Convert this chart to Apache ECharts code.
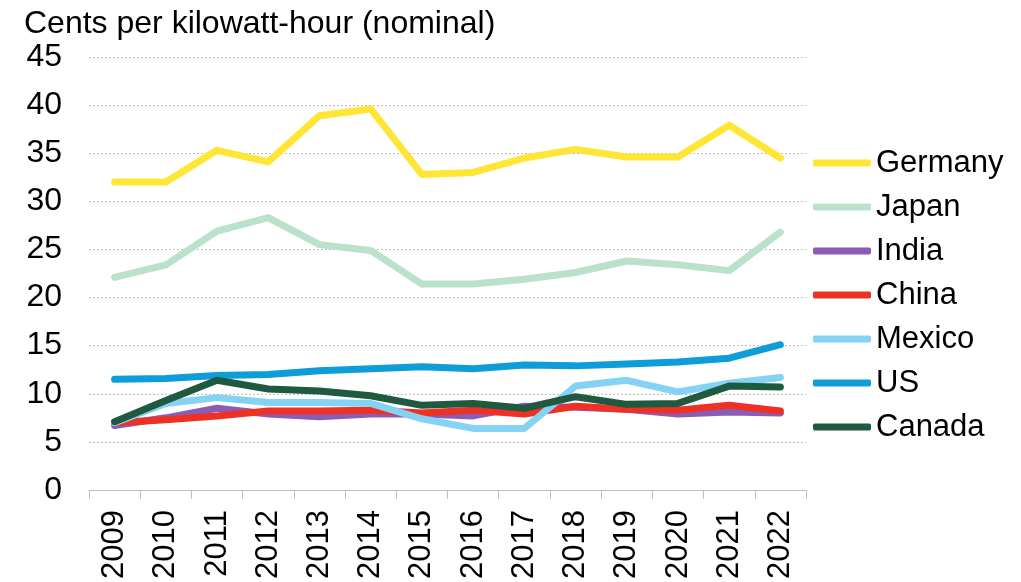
<!DOCTYPE html>
<html><head><meta charset="utf-8">
<script src="https://cdn.jsdelivr.net/npm/echarts@6/dist/echarts.min.js"></script>
<style>html,body{margin:0;padding:0;background:#fff}#c{width:1021px;height:582px}</style>
</head><body><div id="c"></div>
<script>
var years = ['2009','2010','2011','2012','2013','2014','2015','2016','2017','2018','2019','2020','2021','2022'];
var germany = [32.0,32.0,35.3,34.1,38.9,39.6,32.8,33.0,34.5,35.4,34.6,34.6,37.9,34.5];
var japan   = [22.1,23.4,26.9,28.3,25.5,24.9,21.4,21.4,21.9,22.6,23.8,23.4,22.8,26.8];
var india   = [6.7,7.5,8.5,7.9,7.6,7.9,7.9,7.7,8.7,8.6,8.4,7.9,8.1,8.0];
var china   = [7.0,7.3,7.7,8.2,8.2,8.3,8.0,8.3,7.9,8.7,8.4,8.3,8.8,8.2];
var mexico  = [7.0,9.0,9.6,9.1,9.1,9.0,7.4,6.4,6.4,10.8,11.4,10.2,11.1,11.7];
var us      = [11.5,11.6,11.9,12.0,12.4,12.6,12.8,12.6,13.0,12.9,13.1,13.3,13.7,15.1];
var canada  = [7.1,9.3,11.4,10.5,10.3,9.8,8.8,9.0,8.5,9.7,8.9,9.0,10.8,10.7];
var yTicks = [0,5,10,15,20,25,30,35,40,45];

var names = ['Germany','Japan','India','China','Mexico','US','Canada'];
var datas = [germany,japan,india,china,mexico,us,canada];
var colors = ['#FFE535','#B9E1CC','#8B5CB5','#EE3124','#84D3F5','#0E9DD9','#1F5A40'];
var font = 'Liberation Sans, Arial, sans-serif';

var chart = echarts.init(document.getElementById('c'));
chart.setOption({
  animation: false,
  title: {text: 'Cents per kilowatt-hour (nominal)', left: 19, top: 3,
    textStyle: {fontFamily: font, fontSize: 32, fontWeight: 'normal', color: '#000'}},
  grid: {left: 89, right: 215, top: 57, bottom: 92},
  legend: {orient: 'vertical', left: 808, top: 142, itemGap: 12, itemWidth: 58, itemHeight: 7,
    icon: 'roundRect',
    data: names,
    textStyle: {fontFamily: font, fontSize: 31, lineHeight: 32, color: '#000'}},
  xAxis: {type: 'category', data: years, boundaryGap: true,
    axisLine: {lineStyle: {color: '#BFBFBF', width: 1}},
    axisTick: {show: true, length: 9, lineStyle: {color: '#BFBFBF'}},
    axisLabel: {rotate: 90, fontFamily: font, fontSize: 31, color: '#000', margin: 20}},
  yAxis: {type: 'value', min: 0, max: 45, interval: 5,
    axisLine: {show: false}, axisTick: {show: false},
    axisLabel: {fontFamily: font, fontSize: 32, color: '#000', margin: 27,
      formatter: function(v){ return yTicks.indexOf(v) >= 0 ? String(v) : ''; }},
    splitLine: {lineStyle: {color: '#BFBFBF', type: [2,2], width: 1}}},
  series: names.map(function(n, i){
    return {name: n, type: 'line', data: datas[i], symbol: 'none', showSymbol: false,
      color: colors[i],
      lineStyle: {width: 7, color: colors[i], cap: 'round', join: 'round'}};
  })
});
</script></body></html>
